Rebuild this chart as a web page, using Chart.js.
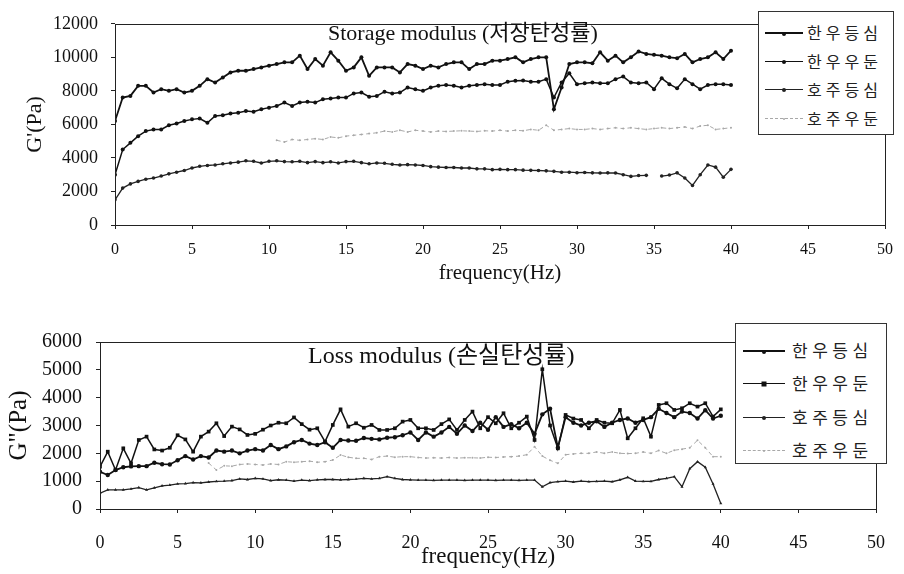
<!DOCTYPE html>
<html>
<head>
<meta charset="utf-8">
<script src="https://cdn.jsdelivr.net/npm/chart.js@4.4.0/dist/chart.umd.min.js"></script>
<style>
body{margin:0;background:#fff;width:904px;height:574px;position:relative;overflow:hidden}
canvas{position:absolute;left:0}
#c1{top:0}
#c2{top:290px}
.legend{position:absolute;border:1px solid #333;background:#fff;box-sizing:border-box;font-family:"Noto Sans CJK KR";color:#222}
.row{position:absolute;left:0;height:0;width:100%}
.sample{position:absolute;top:0;height:0}
.dot{position:absolute;left:50%;top:0;transform:translate(-50%,-50%);background:#111}
.txt{position:absolute;top:0;white-space:nowrap;transform:translateY(-52%)}
</style>
</head>
<body>
<canvas id="c1" width="904" height="290"></canvas>
<canvas id="c2" width="904" height="284"></canvas>
<div id="leg1" class="legend" style="left:758px;top:11px;width:136px;height:124px"></div>
<div id="leg2" class="legend" style="left:735px;top:323px;width:152px;height:141px"></div>
<script>
var freq = [0,0.5,1,1.5,2,2.5,3,3.5,4,4.5,5,5.5,6,6.5,7,7.5,8,8.5,9,9.5,
  10,10.5,11,11.5,12,12.5,13,13.5,14,14.5,15,15.5,16,16.5,17,17.5,18,18.5,19,19.5,
  20,20.5,21,21.5,22,22.5,23,23.5,24,24.5,25,25.5,26,26.5,27,27.5,28,28.5,29,29.5,
  30,30.5,31,31.5,32,32.5,33,33.5,34,34.5,35,35.5,36,36.5,37,37.5,38,38.5,39,39.5,40];
var names = ['한우등심', '한우우둔', '호주등심', '호주우둔'];

// Storage modulus G' (Pa)
var storHanDeung = [6200,7600,7700,8300,8300,7900,8100,8000,8100,7900,
  8000,8300,8700,8500,8800,9100,9200,9200,9300,9400,
  9500,9600,9700,9700,10100,9300,9900,9500,10300,9800,
  9200,9400,10000,8900,9400,9400,9400,9100,9600,9500,
  9300,9500,9400,9600,9700,9700,9300,9600,9600,9800,
  9800,9900,10000,9700,9900,10000,10000,6900,8200,9600,
  9700,9700,9650,10300,9800,10100,9700,10000,10350,10200,
  10150,10100,10000,9950,10200,9700,9900,10000,10300,9900,10400];
var storHanUdun = [3000,4500,4900,5300,5600,5700,5700,5950,6050,6200,
  6300,6350,6100,6500,6550,6650,6700,6800,6750,6900,
  7000,7100,7300,7100,7300,7350,7300,7500,7550,7600,
  7600,7850,7900,7650,7700,7950,7850,7900,8200,8100,
  8000,8200,8300,8350,8300,8200,8300,8350,8400,8350,
  8350,8550,8600,8620,8550,8550,8700,7600,8500,9050,
  8400,8450,8500,8450,8450,8700,8850,8500,8450,8500,
  8100,8750,8400,8150,8700,8400,8100,8350,8400,8400,8350];
var storHojuDeung = [1500,2200,2450,2600,2730,2800,2920,3050,3150,3250,
  3400,3500,3550,3580,3650,3700,3750,3830,3800,3700,
  3800,3830,3780,3770,3800,3720,3780,3720,3770,3700,
  3780,3800,3720,3650,3700,3680,3620,3580,3600,3580,
  3550,3480,3450,3430,3430,3400,3400,3350,3350,3300,
  3320,3300,3300,3270,3260,3250,3230,3200,3150,3150,
  3120,3130,3110,3100,3110,3100,3000,2900,2950,2960,
  null,2920,2980,3110,2800,2360,3000,3580,3450,2850,3320];
var storHojuUdun = [null,null,null,null,null,null,null,null,null,null,
  null,null,null,null,null,null,null,null,null,null,
  null,5050,4950,5100,5050,5100,5150,5100,5250,5200,
  5300,5350,5400,5450,5500,5600,5550,5650,5550,5650,
  5600,5550,5600,5580,5600,5620,5600,5580,5620,5600,
  5650,5600,5650,5620,5700,5650,5950,5650,5700,5750,
  5700,5700,5750,5700,5750,5800,5750,5800,5750,5700,
  5750,5800,5750,5800,5850,5750,5900,5950,5700,5750,5800];

// Loss modulus G" (Pa)
var lossHanDeung = [1340,1220,1400,1500,1530,1540,1540,1660,1610,1600,
  1750,1900,1780,1900,1850,2100,2060,2100,2000,2100,
  2150,2100,2300,2150,2250,2400,2480,2350,2300,2400,
  2200,2480,2460,2450,2550,2520,2500,2560,2580,2650,
  2750,2480,2750,2600,2750,2950,2700,3000,2800,3100,
  2850,3300,2950,3050,2900,3100,2700,3400,3600,2200,
  3300,3100,3000,3100,3150,2950,3100,3200,3250,3100,
  3200,3300,3600,3450,3300,3500,3450,3250,3550,3250,3350];
var lossHanUdun = [1520,2060,1400,2180,1640,2480,2600,2140,2100,2200,
  2650,2500,2060,2600,2780,3080,2620,2960,2860,2660,
  2700,2850,3000,3100,3080,3290,3050,2850,2900,2420,
  3020,3580,2960,3080,2920,3020,2840,2840,2900,3140,
  3200,2900,2900,2840,3050,3220,2840,3200,3500,2900,
  3300,3080,3440,2900,3100,3320,2480,5020,3000,2180,
  3380,3250,3200,2900,3200,3100,3080,3560,2540,2900,
  3260,2600,3740,3800,3560,3620,3800,3680,3800,3320,3580];
var lossHojuDeung = [570,690,690,690,720,770,690,760,830,860,
  900,910,950,940,970,990,1000,1020,1080,1060,
  1100,1080,1020,1050,1040,1000,1040,1020,1050,1060,
  1060,1050,1060,1070,1100,1080,1100,1160,1100,1060,
  1050,1040,1040,1030,1040,1040,1040,1030,1040,1040,
  1040,1030,1040,1040,1030,1040,1040,800,950,980,
  1000,970,1000,980,990,1000,980,1050,1140,1000,
  990,990,1060,1100,1160,800,1450,1700,1500,900,200];
var lossHojuUdun = [null,null,null,null,null,null,null,null,null,null,
  null,null,null,null,1650,1400,1550,1540,1600,1620,
  1600,1580,1620,1600,1700,1680,1700,1720,1680,1700,
  1760,1940,1860,1820,1820,1780,1880,1900,1860,1880,
  1880,1850,1830,1840,1830,1850,1830,1840,1840,1830,
  1860,1850,1870,1880,1900,1950,2240,1900,1750,1640,
  1950,1980,2000,2000,2050,2000,2050,2000,1990,2000,
  2050,2000,2100,2000,2110,2150,2200,2470,2200,1880,1880];

var xTicks = [0, 50, 5];

function pts(vals) {
  return vals.map(function (v, i) { return {x: freq[i], y: v}; });
}

var frame = {
  id: 'frame',
  afterDraw: function (chart, args, opts) {
    var a = chart.chartArea, ctx = chart.ctx;
    ctx.save();
    ctx.strokeStyle = '#222';
    ctx.lineWidth = 1;
    ctx.strokeRect(Math.round(a.left) + 0.5, Math.round(a.top) + 0.5, Math.round(a.right - a.left), Math.round(a.bottom - a.top));
    ctx.font = opts.font;
    ctx.fillStyle = '#111';
    ctx.textBaseline = 'middle';
    ctx.fillText(opts.text, opts.x, opts.y);
    ctx.restore();
  }
};

var styles = [
  {color: '#111', width: 1.8, dash: [], point: 'circle', r: 2},
  {color: '#111', width: 1.5, dash: [], point: 'circle', r: 2},
  {color: '#222', width: 1.3, dash: [], point: 'circle', r: 1.8},
  {color: '#a8a8a8', width: 1, dash: [4, 3], point: 'circle', r: 1}
];

function makeSets(series, pointStyles) {
  return series.map(function (vals, i) {
    var s = styles[i];
    return {
      label: names[i],
      data: pts(vals),
      borderColor: s.color,
      backgroundColor: s.color,
      borderWidth: s.width,
      borderDash: s.dash,
      pointStyle: pointStyles ? pointStyles[i].style : s.point,
      pointRadius: pointStyles ? pointStyles[i].r : s.r,
      pointBorderWidth: 0,
      tension: 0,
      spanGaps: false
    };
  });
}

function makeChart(id, sets, c) {
  return new Chart(document.getElementById(id), {
    type: 'line',
    data: {datasets: sets},
    plugins: [frame],
    options: {
      responsive: false,
      animation: false,
      devicePixelRatio: 1,
      layout: {padding: {left: 0, top: c.top, right: c.right, bottom: 0}},
      plugins: {
        legend: {display: false},
        tooltip: {enabled: false},
        frame: {text: c.title, x: c.titleX, y: c.titleY, font: c.titleFont}
      },
      scales: {
        x: {
          type: 'linear', min: xTicks[0], max: xTicks[1],
          afterFit: function (s) { s.height = c.xHeight; },
          grid: {drawOnChartArea: false, tickLength: 4, color: '#222'},
          border: {display: false},
          ticks: {stepSize: xTicks[2], padding: c.xPad, color: '#111', maxRotation: 0,
            font: {family: 'Liberation Serif', size: c.xFont},
            callback: function (v) { return String(v); }},
          title: {display: true, text: 'frequency(Hz)', color: '#111',
            font: {family: 'Liberation Serif', size: c.xTitleFont},
            padding: {top: 0, bottom: c.xTitlePad}}
        },
        y: {
          min: 0, max: c.yMax,
          afterFit: function (s) { s.width = c.yWidth; },
          grid: {drawOnChartArea: false, tickLength: 4, color: '#222'},
          border: {display: false},
          ticks: {stepSize: c.yStep, padding: c.yPad, color: '#111',
            font: {family: 'Liberation Serif', size: c.yFont},
            callback: function (v) { return String(v); }},
          title: {display: true, text: c.yTitle, color: '#111',
            font: {family: 'Liberation Serif', size: c.yTitleFont},
            padding: {top: c.yTitlePad, bottom: 0}}
        }
      }
    }
  });
}

makeChart('c1', makeSets([storHanDeung, storHanUdun, storHojuDeung, storHojuUdun]), {
  top: 13, right: 11, xHeight: 65, yWidth: 115, yMax: 12000, yStep: 2000,
  xPad: 11, xFont: 16, xTitleFont: 21, xTitlePad: 4,
  yPad: 13, yFont: 18, yTitle: "G'(Pa)", yTitleFont: 22, yTitlePad: 22,
  title: 'Storage modulus (저장탄성률)', titleX: 328, titleY: 34,
  titleFont: '22px "Liberation Serif", "Noto Sans CJK KR"'
});

makeChart('c2', makeSets([lossHanDeung, lossHanUdun, lossHojuDeung, lossHojuUdun], [
  {style: 'circle', r: 2.2}, {style: 'rect', r: 2.6}, {style: 'triangle', r: 1.8}, {style: 'circle', r: 1}
]), {
  top: 52, right: 26, xHeight: 65, yWidth: 100, yMax: 6000, yStep: 1000,
  xPad: 19, xFont: 18, xTitleFont: 23, xTitlePad: 3,
  yPad: 14, yFont: 20, yTitle: 'G"(Pa)', yTitleFont: 25, yTitlePad: 4,
  title: 'Loss modulus (손실탄성률)', titleX: 308, titleY: 67,
  titleFont: '24px "Liberation Serif", "Noto Sans CJK KR"'
});

// HTML legends
function buildLegend(id, cfg) {
  var box = document.getElementById(id);
  names.forEach(function (n, i) {
    var s = styles[i];
    var row = document.createElement('div');
    row.className = 'row';
    row.style.top = (cfg.first + i * cfg.step) + 'px';
    var line = document.createElement('div');
    line.className = 'sample';
    line.style.left = cfg.lineLeft + 'px';
    line.style.width = cfg.lineW + 'px';
    line.style.borderTop = (s.width > 1.6 ? 2 : 1) + 'px ' + (s.dash.length ? 'dashed' : 'solid') + ' ' + s.color;
    var dot = document.createElement('div');
    dot.className = 'dot';
    var d = cfg.dots[i];
    dot.style.width = d + 'px';
    dot.style.height = d + 'px';
    dot.style.borderRadius = cfg.square === i ? '0' : '50%';
    dot.style.background = s.color;
    line.appendChild(dot);
    var t = document.createElement('div');
    t.className = 'txt';
    t.style.left = cfg.textLeft + 'px';
    t.style.fontSize = cfg.font + 'px';
    t.style.letterSpacing = cfg.spacing + 'px';
    t.textContent = n;
    row.appendChild(line);
    row.appendChild(t);
    box.appendChild(row);
  });
}
buildLegend('leg1', {first: 20, step: 28.7, lineLeft: 6, lineW: 38, textLeft: 48, font: 16, spacing: 4, dots: [4, 4, 4, 2], square: -1});
buildLegend('leg2', {first: 26, step: 33.3, lineLeft: 7, lineW: 42, textLeft: 56, font: 17, spacing: 4.5, dots: [4, 5, 4, 2], square: 1});
</script>
</body>
</html>
